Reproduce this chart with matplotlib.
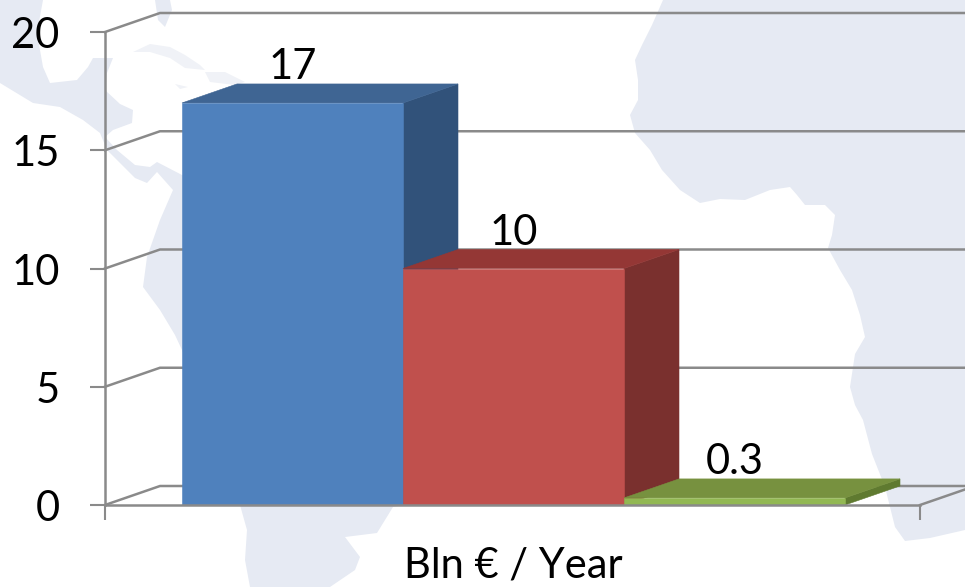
import matplotlib
matplotlib.use("Agg")
import matplotlib.pyplot as plt
from matplotlib.patches import Polygon
from matplotlib.transforms import Affine2D, ScaledTranslation

# ---- data
categories = ["A", "B", "C"]
values = [17.0, 10.0, 0.3]
value_labels = ["17", "10", "0.3"]
y_ticks = [0, 5, 10, 15, 20]
axis_label = "Bln € / Year"

front_colors = ["#4F81BD", "#C0504D", "#92B853"]
top_colors = ["#3F6593", "#943735", "#77913F"]
side_colors = ["#31527A", "#7A302E", "#5F7A30"]
grid_color = "#8A8A8A"
map_color = "#E6EAF3"
island_color = "#F0F2F7"

W, H = 965, 587
plt.rcParams["font.family"] = ["Lato", "DejaVu Sans"]
fig = plt.figure(figsize=(W / 100, H / 100), dpi=100, facecolor="white")

# ---- background map (decoration, in pixel coordinates)
px = Affine2D().scale(1, -1).translate(0, H)
africa = [(663,0),(652,25),(642,45),(635,60),(638,80),(638,100),(630,115),(635,133),(650,150),
          (662,170),(680,190),(700,203),(720,199),(745,200),(770,190),(790,187),(797,195),(805,205),
          (825,205),(835,215),(832,235),(828,248),(840,270),(852,290),(860,315),(865,337),(855,354),
          (850,387),(855,405),(863,420),(872,454),(885,487),(895,527),(905,541),(930,538),(965,530),(965,0)]
americas = [(0,0),(43,0),(37,33),(43,67),(50,83),(77,80),(88,67),(93,58),(113,58),(107,73),(105,90),
            (120,104),(133,110),(132,123),(113,130),(105,137),(117,150),(135,165),(150,167),(157,162),
            (182,175),(300,250),(403,505),(393,507),(377,533),(345,537),(360,557),(355,570),(330,587),
            (250,587),(245,560),(247,530),(240,505),(182,350),(175,335),(160,310),(143,287),(147,257),
            (160,220),(173,190),(157,172),(147,183),(135,178),(107,150),(100,133),(83,120),(60,107),
            (33,103),(0,83)]
cuba = [(133,52),(150,44),(170,47),(185,55),(200,65),(205,70),(185,68),(170,58),(150,52)]
hispaniola = [(205,72),(225,72),(245,82),(235,85),(210,82)]
jamaica = [(175,84),(188,87),(180,89)]
florida = [(155,0),(170,0),(172,10),(165,27),(158,20)]
for shape, c in ((africa, map_color), (americas, map_color), (cuba, island_color),
                 (hispaniola, island_color), (jamaica, island_color), (florida, map_color)):
    fig.add_artist(Polygon(shape, closed=True, transform=px, facecolor=c, edgecolor="none", zorder=0))

# ---- axes: plot box front plane 105..920 px, 32..505 px
ax = fig.add_axes([105 / W, 1 - 505 / H, (920 - 105) / W, (505 - 32) / H], facecolor="none", zorder=1)
bar_px = 221.0
xmin = -0.5 - (182 - 105) / bar_px
xmax = 2.5 + (920 - 845) / bar_px
ax.set_xlim(xmin, xmax)
ax.set_ylim(0, 20)
dx = 55 / bar_px                 # depth of the 3-D effect, data units
dy = 19 / 473 * 20

# back wall lines
for t in y_ticks:
    ax.plot([xmin, xmin + dx, xmax + dx], [t, t + dy, t + dy], color=grid_color, lw=1.8,
            clip_on=False, zorder=1, solid_joinstyle="miter")
ax.plot([xmax, xmax + dx], [0, dy], color=grid_color, lw=1.8, clip_on=False, zorder=1)

# bars
for i, (v, fc, tc, sc) in enumerate(zip(values, front_colors, top_colors, side_colors)):
    l, r = i - 0.5, i + 0.5
    ax.fill([r, r + dx, r + dx, r], [0, dy, v + dy, v], facecolor=sc, edgecolor=sc, lw=0.4, clip_on=False, zorder=2 + i)
    ax.fill([l, l + dx, r + dx, r], [v, v + dy, v + dy, v], facecolor=tc, edgecolor=tc, lw=0.4, clip_on=False, zorder=2 + i)
    ax.bar(i, v, width=1.0, facecolor=fc, edgecolor=fc, lw=0.4, clip_on=False, zorder=2 + i)
    ax.annotate(value_labels[i], xy=(i, v + dy), xytext=(0, 3.5), textcoords="offset points",
                ha="center", va="baseline", fontsize=30, color="black", zorder=10, annotation_clip=False)

# axes lines, ticks
for s in ("top", "right"):
    ax.spines[s].set_visible(False)
for s in ("left", "bottom"):
    ax.spines[s].set_color(grid_color)
    ax.spines[s].set_linewidth(1.8)
    ax.spines[s].set_zorder(8)
ax.set_yticks(y_ticks)
ax.set_yticklabels([str(t) for t in y_ticks])
ax.set_xticks([xmin, xmax])
ax.set_xticklabels(["", ""])
ax.tick_params(axis="both", length=10.8, width=1.5, color=grid_color, direction="out")
ax.tick_params(axis="y", labelsize=30, pad=22, labelcolor="black")
shift = ScaledTranslation(0, -3 / 72, fig.dpi_scale_trans)
for lab in ax.get_yticklabels():
    lab.set_verticalalignment("center")
    lab.set_transform(lab.get_transform() + shift)

ax.annotate(axis_label, xy=(1, 0), xytext=(0, -52), textcoords="offset points",
            ha="center", va="baseline", fontsize=30, color="black", annotation_clip=False)

fig.savefig("out.png", dpi=100, facecolor="white")
